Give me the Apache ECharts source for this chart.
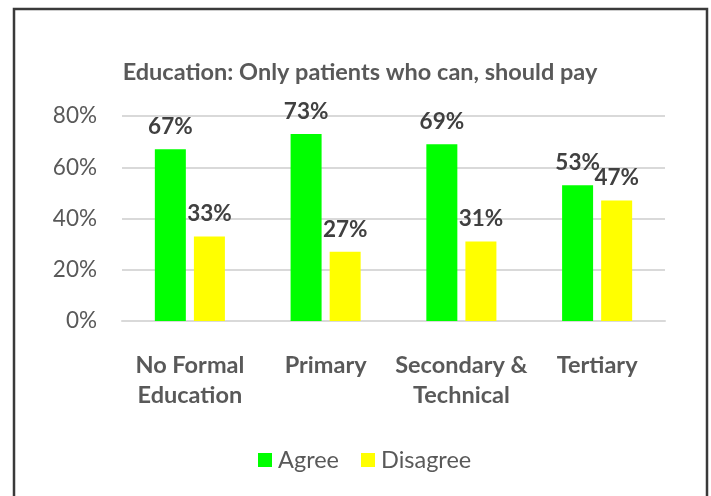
<!DOCTYPE html>
<html>
<head>
<meta charset="utf-8">
<script src="https://cdn.jsdelivr.net/npm/echarts@6/dist/echarts.min.js"></script>
<style>
  html, body { margin: 0; padding: 0; background: #fff; }
  #chart { width: 711px; height: 496px; }
</style>
</head>
<body>
<div id="chart"></div>
<script>
// Education level vs. opinion that only patients who can afford it should pay
const categories = ['No Formal\nEducation', 'Primary', 'Secondary &\nTechnical', 'Tertiary'];
const agree = [67, 73, 69, 53];
const disagree = [33, 27, 31, 47];
const yTicks = [0, 20, 40, 60, 80];

const FONT = 'Lato, "Open Sans", sans-serif';

const chart = echarts.init(document.getElementById('chart'), null, { renderer: 'canvas' });

const labelStyle = {
  show: true,
  position: 'top',
  distance: 11,
  formatter: p => p.value + '%',
  fontFamily: FONT,
  fontWeight: 'bold',
  fontSize: 22.5,
  color: '#404040'
};

chart.setOption({
  animation: false,
  backgroundColor: '#ffffff',
  graphic: [{
    type: 'rect',
    shape: { x: 14, y: 9, width: 693, height: 500 },
    style: { fill: 'none', stroke: '#3a3a3a', lineWidth: 2.5 },
    silent: true
  }],
  title: {
    text: 'Education: Only patients who can, should pay',
    left: 355,
    textAlign: 'center',
    top: 55,
    textStyle: { fontFamily: FONT, fontWeight: 'bold', fontSize: 23.5, color: '#595959' }
  },
  legend: {
    data: ['Agree', 'Disagree'],
    bottom: 19,
    left: 253,
    itemWidth: 14,
    itemHeight: 14,
    itemGap: 22,
    icon: 'rect',
    textStyle: { fontFamily: FONT, fontSize: 23.5, color: '#595959', padding: [0, 0, 0, 1] }
  },
  grid: { left: 122, right: 46, top: 116, bottom: 175 },
  xAxis: {
    type: 'category',
    data: categories,
    axisLine: { show: true, lineStyle: { color: '#d9d9d9', width: 2 } },
    axisTick: { show: false },
    axisLabel: {
      margin: 29,
      lineHeight: 30,
      fontFamily: FONT,
      fontWeight: 'bold',
      fontSize: 23.5,
      color: '#595959',
      interval: 0
    }
  },
  yAxis: {
    type: 'value',
    min: yTicks[0],
    max: yTicks[yTicks.length - 1],
    interval: 20,
    axisLine: { show: false },
    axisTick: { show: false },
    splitLine: { lineStyle: { color: '#d9d9d9', width: 2 } },
    axisLabel: {
      margin: 25,
      formatter: v => v + '%',
      fontFamily: FONT,
      fontSize: 22.5,
      color: '#595959'
    }
  },
  series: [
    {
      name: 'Agree',
      type: 'bar',
      data: agree,
      barWidth: 31,
      barGap: '26%',
      itemStyle: { color: '#00ff00' },
      label: labelStyle
    },
    {
      name: 'Disagree',
      type: 'bar',
      data: disagree,
      barWidth: 31,
      barGap: '26%',
      itemStyle: { color: '#ffff00' },
      label: labelStyle
    }
  ]
});
</script>
</body>
</html>
